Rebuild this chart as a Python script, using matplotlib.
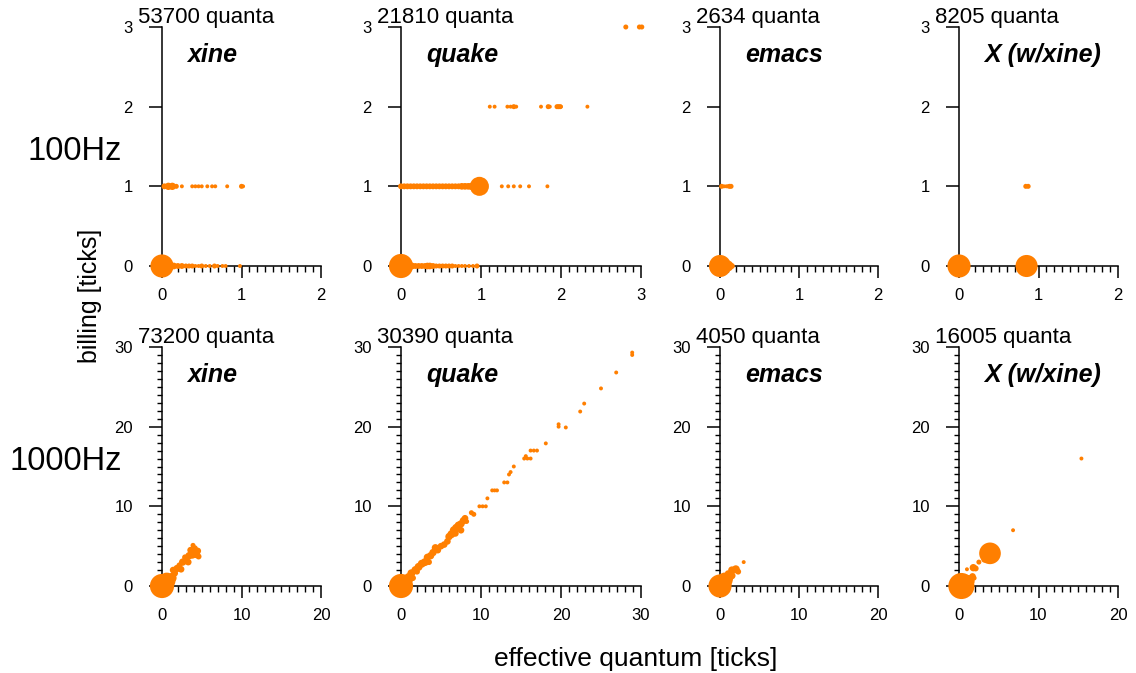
import matplotlib
matplotlib.use("Agg")
import matplotlib.pyplot as plt
from matplotlib.ticker import MultipleLocator

plt.rcParams['font.family'] = ['Liberation Sans', 'DejaVu Sans']

# ---- data ----
apps = ['xine', 'quake', 'emacs', 'X (w/xine)']
rates = ['100Hz', '1000Hz']
quanta_100 = [53700, 21810, 2634, 8205]
quanta_1000 = [73200, 30390, 4050, 16005]
xmax_100 = [2, 3, 2, 2]
xmax_1000 = [20, 30, 20, 20]
ymax_100 = 3
ymax_1000 = 30

# 100Hz, xine
xine_100_x = [0.0, 0.05, 0.1, 0.15, 0.2, 0.25, 0.3, 0.34, 0.38, 0.42, 0.46, 0.5, 0.55, 0.6, 0.66, 0.7, 0.76, 0.8, 0.98,
              0.03, 0.08, 0.13, 0.18, 0.25, 0.38, 0.42, 0.46, 0.5, 0.57, 0.63, 0.67, 0.82, 1.0, 1.02]
xine_100_y = [0] * 19 + [1] * 15
xine_100_w = [55, 12, 6, 4, 3, 3, 2, 2, 2, 1, 1, 2, 1, 1, 2, 1, 1, 1, 1,
              3, 5, 5, 2, 1, 1, 1, 1, 1, 1, 1, 1, 1, 2, 1]

# 100Hz, quake
quake_100_x = [0.0, 0.06, 0.1, 0.14, 0.18, 0.22, 0.26, 0.3, 0.33, 0.36, 0.4, 0.44, 0.48, 0.52, 0.56, 0.6,
               0.64, 0.68, 0.72, 0.76, 0.8, 0.85, 0.9, 0.95,
               0.0, 0.04, 0.08, 0.12, 0.16, 0.2, 0.24, 0.28, 0.32, 0.36, 0.4, 0.44, 0.48, 0.52, 0.56, 0.6,
               0.64, 0.68, 0.72, 0.76, 0.8, 0.84, 0.88, 0.92, 0.98, 1.26, 1.34, 1.41, 1.49, 1.6, 1.83,
               1.11, 1.17, 1.33, 1.37, 1.41, 1.44, 1.75, 1.84, 1.86, 1.95, 1.97, 1.99, 2.0, 2.33,
               2.81, 2.98, 3.01]
quake_100_y = [0] * 24 + [1] * 31 + [2] * 14 + [3] * 3
quake_100_w = [60, 14, 6, 4, 3, 3, 3, 3, 4, 4, 3, 2, 2, 2, 2, 2, 2, 1, 1, 1, 1, 1, 1, 2,
               3, 3, 3, 3, 3, 3, 3, 3, 3, 3, 3, 3, 3, 3, 3, 3, 3, 3, 3, 4, 4, 4, 5, 6, 37,
               1, 1, 1, 1, 1, 1,
               1, 1, 1, 1, 2, 1, 1, 2, 1, 2, 2, 2, 1, 1,
               2, 2, 2]

# 100Hz, emacs
emacs_100_x = [0.0, 0.1, 0.15, 0.02, 0.05, 0.08, 0.1, 0.12, 0.14]
emacs_100_y = [0, 0, 0, 1, 1, 1, 1, 1, 1]
emacs_100_w = [50, 12, 3, 2, 1, 1, 1, 2, 2]

# 100Hz, X
x_100_x = [0.0, 0.85, 0.84, 0.87]
x_100_y = [0, 0, 1, 1]
x_100_w = [55, 50, 2, 2]

# 1000Hz, xine
xine_1000_x = [0.0, 0.6, 1.2, 1.6, 1.4, 1.9, 2.4, 2.2, 2.6, 3.0, 3.3, 2.9, 3.4, 3.8, 4.3, 4.5, 3.6, 4.1, 3.9, 4.6]
xine_1000_y = [0.0, 0.6, 1.0, 1.6, 2.0, 2.2, 2.1, 2.6, 3.0, 3.2, 3.0, 3.6, 3.8, 4.0, 4.0, 4.4, 4.5, 4.7, 5.1, 3.7]
xine_1000_w = [60, 30, 10, 4, 4, 5, 4, 3, 5, 5, 4, 3, 5, 8, 6, 4, 4, 4, 2, 3]

# 1000Hz, quake
quake_1000_x = [0.0, 0.5, 1.0, 1.3, 1.8, 2.2, 2.6, 3.0, 3.3, 3.7, 4.0, 4.3, 4.6, 5.0, 5.4, 5.8, 6.0, 6.3,
                6.6, 6.9, 7.2, 7.5, 7.8, 8.0, 6.8, 7.5, 3.5, 2.0, 1.5, 0.3,
                8.2, 8.8, 9.1, 9.8, 10.2, 10.6, 10.8, 11.4, 11.7, 12.0, 12.9, 13.3, 13.5, 13.7, 14.1,
                15.4, 15.8, 16.2, 15.6, 16.2, 16.6, 17.0, 18.1, 19.7, 19.7, 20.6, 22.4, 22.9, 25.0,
                26.9, 28.9, 28.9]
quake_1000_y = [0.0, 0.3, 1.0, 1.6, 2.0, 2.4, 2.8, 3.0, 3.6, 3.8, 4.2, 4.8, 4.5, 5.0, 5.2, 5.6, 6.2, 6.5,
                7.0, 7.3, 7.6, 7.8, 8.2, 8.5, 6.6, 7.0, 3.0, 1.8, 1.0, 1.0,
                8.1, 9.2, 9.0, 10.0, 10.0, 10.0, 11.0, 12.0, 12.0, 12.0, 13.0, 13.0, 14.0, 14.3, 15.0,
                16.0, 16.0, 16.0, 16.3, 17.0, 17.0, 17.0, 17.9, 20.0, 20.3, 19.9, 21.9, 22.9, 24.8,
                26.8, 29.0, 29.3]
quake_1000_w = [60, 20, 10, 6, 6, 6, 6, 6, 5, 5, 5, 5, 4, 4, 4, 4, 5, 6,
                6, 6, 6, 5, 5, 4, 4, 4, 3, 3, 3, 3,
                2, 2, 2, 1, 1, 1, 1, 1, 1, 1, 1, 1, 1, 1, 1,
                1, 1, 1, 1, 1, 1, 1, 1, 1, 1, 1, 1, 1, 1,
                1, 1, 1]

# 1000Hz, emacs
emacs_1000_x = [0.0, 0.6, 1.1, 1.5, 1.5, 2.0, 2.3, 1.0, 3.0]
emacs_1000_y = [0.0, 0.7, 1.0, 1.3, 2.0, 2.1, 1.8, 1.6, 3.0]
emacs_1000_w = [55, 25, 8, 5, 5, 6, 3, 3, 1]

# 1000Hz, X
x_1000_x = [0.3, 1.2, 1.7, 1.0, 1.8, 2.1, 1.9, 2.5, 3.2, 3.9, 6.8, 15.4]
x_1000_y = [0.0, 0.6, 1.2, 2.1, 2.3, 2.2, 1.0, 3.0, 3.3, 4.1, 7.0, 16.0]
x_1000_w = [70, 15, 4, 1, 5, 3, 2, 2, 3, 48, 1, 1]

rows = [
    [(xine_100_x, xine_100_y, xine_100_w), (quake_100_x, quake_100_y, quake_100_w),
     (emacs_100_x, emacs_100_y, emacs_100_w), (x_100_x, x_100_y, x_100_w)],
    [(xine_1000_x, xine_1000_y, xine_1000_w), (quake_1000_x, quake_1000_y, quake_1000_w),
     (emacs_1000_x, emacs_1000_y, emacs_1000_w), (x_1000_x, x_1000_y, x_1000_w)],
]

# ---- layout (pixels) ----
W, H = 1136, 673
fig = plt.figure(figsize=(W / 100, H / 100), dpi=100)
lefts = [162, 401, 720, 959]
widths = [159, 240, 158, 159]
tops = [27, 347]
height = 239
orange = '#ff7f00'
px = 0.72  # points per pixel

for r in range(2):
    quanta = quanta_100 if r == 0 else quanta_1000
    xmaxs = xmax_100 if r == 0 else xmax_1000
    ymax = ymax_100 if r == 0 else ymax_1000
    for c in range(4):
        ax = fig.add_axes([lefts[c] / W, (H - tops[r] - height) / H, widths[c] / W, height / H])
        xs, ys, ws = rows[r][c]
        # marker area grows with the number of quanta in the cluster
        ax.scatter(xs, ys, s=[5 * w + 3 for w in ws], color=orange, marker='o',
                   linewidths=0, clip_on=False, zorder=3)
        ax.set_xlim(0, xmaxs[c])
        ax.set_ylim(0, ymax)
        for side in ['top', 'right']:
            ax.spines[side].set_visible(False)
        for side in ['left', 'bottom']:
            ax.spines[side].set_linewidth(1.1)
        if r == 0:
            ax.xaxis.set_major_locator(MultipleLocator(1))
            ax.xaxis.set_minor_locator(MultipleLocator(0.1))
            ax.yaxis.set_major_locator(MultipleLocator(1))
        else:
            ax.xaxis.set_major_locator(MultipleLocator(10))
            ax.xaxis.set_minor_locator(MultipleLocator(1))
            ax.yaxis.set_major_locator(MultipleLocator(10))
            ax.yaxis.set_minor_locator(MultipleLocator(1))
        ax.tick_params(axis='x', which='major', direction='out', length=8.5, width=1.1,
                       pad=7, labelsize=12)
        ax.tick_params(axis='x', which='minor', direction='out', length=4.3, width=1.0)
        ax.tick_params(axis='y', which='major', direction='out', length=9.5, width=1.1,
                       pad=11.5, labelsize=12)
        ax.tick_params(axis='y', which='minor', direction='out', length=3.6, width=1.0)
        ax.patch.set_alpha(0)

        ax.annotate(f'{quanta[c]} quanta', xy=(0, 1), xycoords='axes fraction',
                    xytext=(-24 * px, 4 * px), textcoords='offset points',
                    ha='left', va='baseline', fontsize=16)
        ax.annotate(apps[c], xy=(0, 1), xycoords='axes fraction',
                    xytext=(25 * px, -35 * px), textcoords='offset points',
                    ha='left', va='baseline', fontsize=18, fontweight='bold', fontstyle='italic')

fig.text(122 / W, 1 - 151 / H, rates[0], ha='right', va='center', fontsize=23.5)
fig.text(122 / W, 1 - 461 / H, rates[1], ha='right', va='center', fontsize=23.5)
fig.text(90 / W, 1 - 296 / H, 'billing [ticks]', rotation=90, ha='center', va='center', fontsize=18)
fig.text(636 / W, 1 - 659 / H, 'effective quantum [ticks]', ha='center', va='center', fontsize=19)

fig.savefig('out.png', dpi=100)
